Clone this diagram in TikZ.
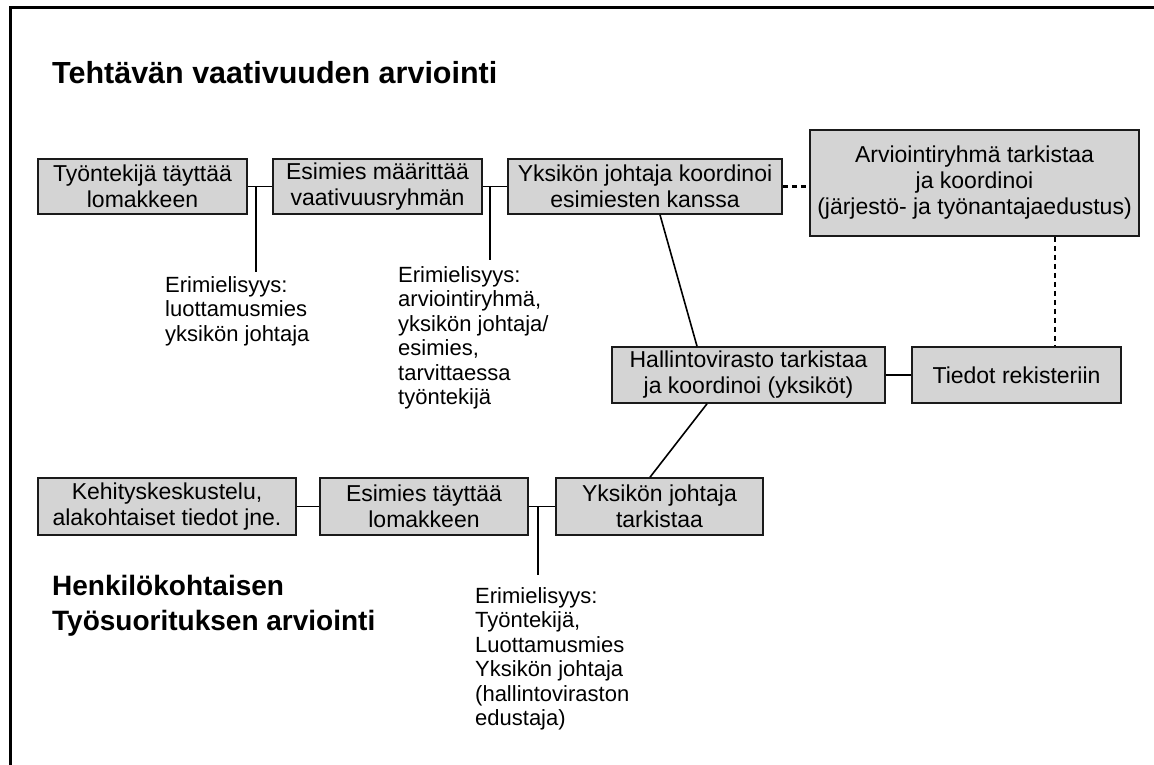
\documentclass[tikz,border=0pt]{standalone}
\usepackage{fontspec}
\setmainfont{Liberation Sans}
\usepackage{tikz}
\usetikzlibrary{positioning, calc}
\usepackage{xcolor}
\definecolor{cBox}{HTML}{D4D4D4}
\definecolor{cEdge}{HTML}{1A1A1A}

\begin{document}
\begin{tikzpicture}[x=1pt, y=-1pt,
  box/.style={draw=cEdge, line width=1.6pt, fill=cBox, align=center, inner sep=0pt,
    minimum height=55pt, font=\fontsize{23}{26}\selectfont},
  note/.style={align=left, anchor=north west, inner sep=0pt, font=\fontsize{22}{24.5}\selectfont},
  ttl/.style={align=left, anchor=north west, inner sep=0pt, font=\fontsize{28}{35}\selectfont\bfseries},
  link/.style={line width=1.6pt},
  dlink/.style={line width=2.4pt, dash pattern=on 5pt off 4pt},
]
\useasboundingbox (0,0) rectangle (1154,765);
% frame (top and left only)
\draw[line width=3pt] (10.5,765) -- (10.5,8) -- (1154,8);

% titles
\node[ttl, font=\fontsize{30.5}{35}\selectfont\bfseries] (t1) at (52,61) {Tehtävän vaativuuden arviointi};
\node[ttl] (t2) at (52,575) {Henkilökohtaisen\\Työsuorituksen arviointi};

% upper chain
\node[box, minimum width=209pt] (b1) at (142.5,186.5) {Työntekijä täyttää\\lomakkeen};
\node[box, minimum width=209pt] (b2) at (377.5,186.5) {Esimies määrittää\\vaativuusryhmän};
\node[box, minimum width=274pt] (b3) at (645,186.5) {Yksikön johtaja koordinoi\\esimiesten kanssa};
\node[box, minimum width=329pt, minimum height=106pt] (b4) at (974.5,183)
  {Arviointiryhmä tarkistaa\\ja koordinoi\\(järjestö- ja työnantajaedustus)};
\node[box, minimum width=273pt, minimum height=56pt] (b5) at (748.5,375) {Hallintovirasto tarkistaa\\ja koordinoi (yksiköt)};
\node[box, minimum width=209pt, minimum height=56pt] (b6) at (1016.5,375) {Tiedot rekisteriin};

% lower chain
\node[box, minimum width=258pt, minimum height=57pt] (b9) at (167,506.5) {Kehityskeskustelu,\\alakohtaiset tiedot jne.};
\node[box, minimum width=208pt, minimum height=57pt] (b8) at (424,506.5) {Esimies täyttää\\lomakkeen};
\node[box, minimum width=207pt, minimum height=57pt] (b7) at (659.5,506.5) {Yksikön johtaja\\tarkistaa};

% disagreement notes
\node[note] (n1) at (165,276) {Erimielisyys:\\luottamusmies\\yksikön johtaja};
\node[note] (n2) at (398,266) {Erimielisyys:\\arviointiryhmä,\\yksikön johtaja/\\esimies,\\tarvittaessa\\työntekijä};
\node[note] (n3) at (475,587) {Erimielisyys:\\Työntekijä,\\Luottamusmies\\Yksikön johtaja\\(hallintoviraston\\edustaja)};

% connectors
\draw[link] (b1) -- (b2);
\draw[link] (b2) -- (b3);
\draw[dlink] (b3.east) -- (b3.east -| b4.west);
\draw[dlink] ([xshift=80.5pt]b4.south) -- ([xshift=38.5pt]b6.north);
\draw[link] ([xshift=15pt]b3.south) -- ([xshift=-51.5pt]b5.north);
\draw[link] (b5) -- (b6);
\draw[link] ([xshift=-41.5pt]b5.south) -- ([xshift=-9.5pt]b7.north);
\draw[link] (b9) -- (b8);
\draw[link] (b8) -- (b7);

\coordinate (j1) at ([xshift=8pt]b1.east);
\coordinate (j2) at ([xshift=7pt]b2.east);
\coordinate (j3) at ([xshift=9pt]b8.east);
\draw[link] (j1) -- ($(n1.north -| j1)+(0,-4)$);
\draw[link] (j2) -- ($(n2.north -| j2)+(0,-6)$);
\draw[link] (j3) -- ($(n3.north -| j3)+(0,-12)$);
\end{tikzpicture}
\end{document}
